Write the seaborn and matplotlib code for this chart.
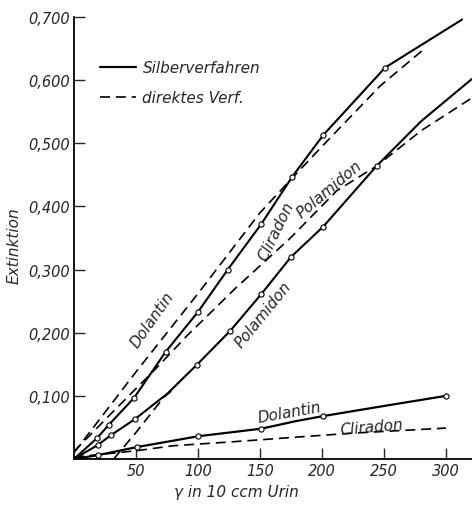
import matplotlib
matplotlib.use("Agg")
import matplotlib.pyplot as plt
import seaborn as sns
import pandas as pd
from matplotlib.lines import Line2D
from matplotlib.ticker import FuncFormatter

# ---------------- data ----------------
# Cliradon, Silberverfahren (solid)
cli_s_x = [0, 18.5, 28, 48.5, 74, 100, 124, 151, 176, 201, 251, 313]
cli_s_y = [0, 0.033, 0.054, 0.097, 0.170, 0.233, 0.300, 0.372, 0.447, 0.513, 0.620, 0.696]
cli_s_mx = [18.5, 28, 48.5, 74, 100, 124, 151, 176, 201, 251]
cli_s_my = [0.033, 0.054, 0.097, 0.170, 0.233, 0.300, 0.372, 0.447, 0.513, 0.620]

# Polamidon, Silberverfahren (solid)
pol_s_x = [0, 19, 30, 49, 75, 99, 126, 151, 175, 201, 244, 280, 321]
pol_s_y = [0, 0.022, 0.038, 0.063, 0.103, 0.149, 0.203, 0.261, 0.320, 0.368, 0.464, 0.535, 0.602]
pol_s_mx = [19, 30, 49, 99, 126, 151, 175, 201, 244]
pol_s_my = [0.022, 0.038, 0.063, 0.149, 0.203, 0.261, 0.320, 0.368, 0.464]

# Dolantin, Silberverfahren (solid)
dol_s_x = [0, 19, 51, 80, 100, 151, 179, 201, 250, 300]
dol_s_y = [0, 0.006, 0.019, 0.029, 0.036, 0.048, 0.060, 0.068, 0.084, 0.100]
dol_s_mx = [19, 51, 100, 151, 201, 300]
dol_s_my = [0.006, 0.019, 0.036, 0.048, 0.068, 0.100]

# Dolantin, direktes Verfahren (dashed)
dol_d_x = [0, 50, 100, 150, 176, 200, 247, 281]
dol_d_y = [0.010, 0.138, 0.262, 0.390, 0.445, 0.495, 0.591, 0.647]

# Polamidon, direktes Verfahren (dashed)
pol_d_x = [0, 30, 66, 91, 130, 174, 212, 244, 280, 321]
pol_d_y = [0.012, 0.072, 0.143, 0.195, 0.270, 0.349, 0.425, 0.464, 0.520, 0.572]

# Cliradon, direktes Verfahren (dashed)
cli_d_x = [0, 50, 80, 126, 175, 225, 300]
cli_d_y = [0.003, 0.013, 0.021, 0.027, 0.034, 0.041, 0.049]

# short dashed branch starting on the x axis
br_d_x = [32, 50, 72.5, 80]
br_d_y = [0.0, 0.042, 0.098, 0.110]

x_ticks = [50, 100, 150, 200, 250, 300]
y_ticks = [0.1, 0.2, 0.3, 0.4, 0.5, 0.6, 0.7]

# ---------------- style ----------------
sns.set_style("ticks")
FONT = ["Liberation Sans Narrow", "DejaVu Sans"]
plt.rcParams["font.family"] = FONT
plt.rcParams["font.style"] = "italic"

fig = plt.figure(figsize=(4.72, 5.06), dpi=100)
ax = fig.add_axes([0.1568, 0.0909, 0.8432, 0.8735])

DASH = (0, (6, 3.5))

def line(x, y, dashed=False, lw=1.5):
    df = pd.DataFrame({"x": x, "y": y})
    kw = dict(linestyle=DASH) if dashed else {}
    sns.lineplot(data=df, x="x", y="y", ax=ax, color="black",
                 linewidth=(1.2 if dashed else lw), sort=False,
                 estimator=None, **kw)

def marks(x, y):
    df = pd.DataFrame({"x": x, "y": y})
    sns.scatterplot(data=df, x="x", y="y", ax=ax, s=14, marker="o",
                    facecolor="white", edgecolor="black", linewidth=0.8,
                    zorder=5)

line(dol_d_x, dol_d_y, dashed=True)
line(pol_d_x, pol_d_y, dashed=True)
line(cli_d_x, cli_d_y, dashed=True)
line(br_d_x, br_d_y, dashed=True)
line(cli_s_x, cli_s_y)
line(pol_s_x, pol_s_y)
line(dol_s_x, dol_s_y, lw=1.6)
marks(cli_s_mx, cli_s_my)
marks(pol_s_mx, pol_s_my)
marks(dol_s_mx, dol_s_my)

ax.set_xlim(0, 321)
ax.set_ylim(0, 0.7)
ax.set_xticks(x_ticks)
ax.set_yticks(y_ticks)
ax.xaxis.set_major_formatter(FuncFormatter(lambda v, p: f"{int(v)}"))
ax.yaxis.set_major_formatter(FuncFormatter(lambda v, p: f"{v:.3f}".replace(".", ",")))
ax.tick_params(direction="in", length=8, width=1, labelsize=10.5, pad=3)
for s in ["top", "right"]:
    ax.spines[s].set_visible(False)
for s in ["left", "bottom"]:
    ax.spines[s].set_linewidth(1.3)
    ax.spines[s].set_color("black")

ax.set_xlabel("")
ax.set_ylabel("")
fig.text(0.50, 0.027, "γ in 10 ccm Urin", fontsize=11, ha="center", va="center",
         style="italic", family=FONT)
fig.text(0.030, 0.515, "Extinktion", fontsize=11, rotation=90, ha="center",
         va="center", style="italic", family=FONT)

# curve labels
lab = dict(fontsize=11, ha="center", va="center", rotation_mode="anchor",
           style="italic", family=FONT)
ax.text(63, 0.222, "Dolantin", rotation=55, **lab)
ax.text(163, 0.362, "Cliradon", rotation=64, **lab)
ax.text(206, 0.428, "Polamidon", rotation=40, **lab)
ax.text(153, 0.230, "Polamidon", rotation=51, **lab)
ax.text(174, 0.075, "Dolantin", rotation=10, **lab)
ax.text(240, 0.051, "Cliradon", rotation=5, **lab)

handles = [Line2D([], [], color="black", lw=1.6),
           Line2D([], [], color="black", lw=1.2, linestyle=DASH)]
ax.legend(handles, ["Silberverfahren", "direktes Verf."], loc="upper left",
          bbox_to_anchor=(0.03, 0.933), frameon=False, fontsize=11,
          handlelength=2.4, handletextpad=0.4, labelspacing=0.95)

fig.savefig("out.png", dpi=100)
